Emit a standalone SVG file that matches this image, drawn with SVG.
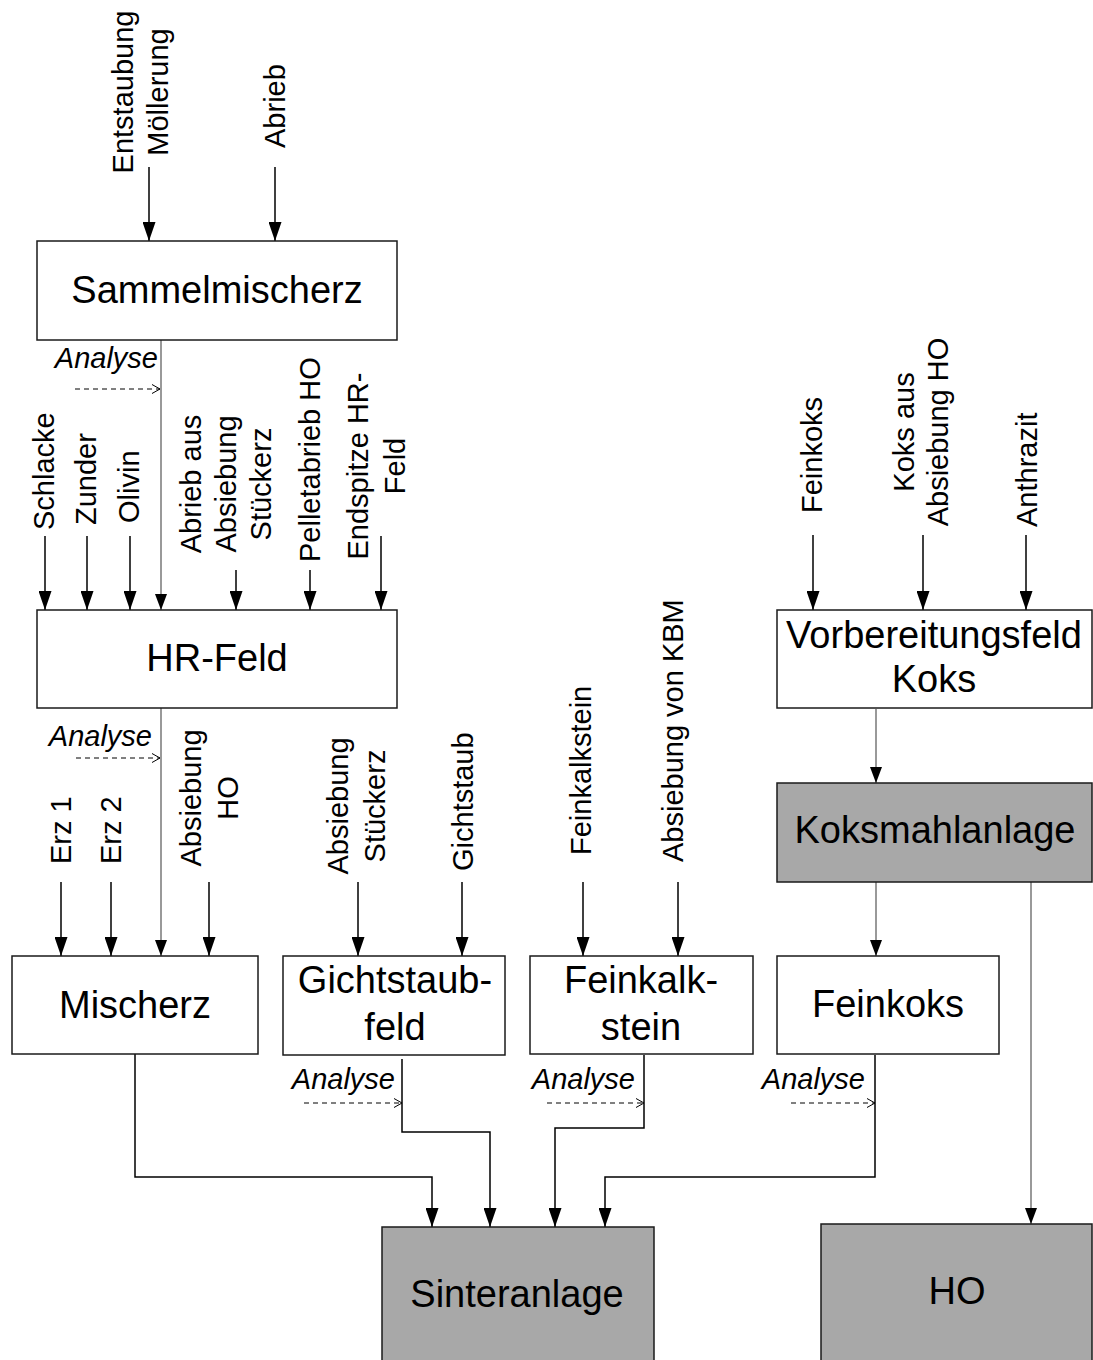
<svg xmlns="http://www.w3.org/2000/svg" width="1093" height="1360" viewBox="0 0 1093 1360">
<style>
text{font-family:"Liberation Sans",Arial,sans-serif;fill:#000}
.box{fill:#fff;stroke:#1a1a1a;stroke-width:1.5}
.gbox{fill:#a8a8a8;stroke:#1a1a1a;stroke-width:1.5}
.bt{font-size:38px;text-anchor:middle}
.lb{font-size:29px}
.mid{text-anchor:middle}
.an{font-size:29px;font-style:italic;text-anchor:end}
.ca{fill:none;stroke:#000;stroke-width:1.5;marker-end:url(#ab)}
.cg{fill:none;stroke:#555;stroke-width:1.2;marker-end:url(#ag)}
.cd{fill:none;stroke:#000;stroke-width:1;stroke-dasharray:5 4;marker-end:url(#ao)}
</style>
<defs>
<marker id="ab" markerUnits="userSpaceOnUse" markerWidth="19" markerHeight="13" refX="19" refY="6.5" orient="auto" viewBox="0 0 19 13">
<path d="M0,0 L19,6.5 L0,13 Z" fill="#000"/>
</marker>
<marker id="ag" markerUnits="userSpaceOnUse" markerWidth="16" markerHeight="12" refX="16" refY="6" orient="auto" viewBox="0 0 16 12">
<path d="M0,0 L16,6 L0,12 Z" fill="#000"/>
</marker>
<marker id="ao" markerUnits="userSpaceOnUse" markerWidth="10" markerHeight="10" refX="8.5" refY="5" orient="auto" viewBox="0 0 10 10">
<path d="M0.5,0.5 L8.5,5 L0.5,9.5" fill="none" stroke="#000" stroke-width="1"/>
</marker>
</defs>

<g id="connectors">
<line class="ca" x1="149" y1="167" x2="149" y2="241"/>
<line class="ca" x1="275" y1="167" x2="275" y2="241"/>
<line class="ca" x1="45" y1="536" x2="45" y2="610"/>
<line class="ca" x1="87" y1="536" x2="87" y2="610"/>
<line class="ca" x1="130" y1="536" x2="130" y2="610"/>
<line class="ca" x1="236" y1="570" x2="236" y2="610"/>
<line class="ca" x1="310" y1="570" x2="310" y2="610"/>
<line class="ca" x1="381" y1="536" x2="381" y2="610"/>
<line class="ca" x1="61" y1="882" x2="61" y2="956"/>
<line class="ca" x1="111" y1="882" x2="111" y2="956"/>
<line class="ca" x1="209" y1="882" x2="209" y2="956"/>
<line class="ca" x1="358" y1="882" x2="358" y2="956"/>
<line class="ca" x1="462" y1="882" x2="462" y2="956"/>
<line class="ca" x1="583" y1="882" x2="583" y2="956"/>
<line class="ca" x1="678" y1="882" x2="678" y2="956"/>
<line class="ca" x1="813" y1="535" x2="813" y2="610"/>
<line class="ca" x1="923" y1="535" x2="923" y2="610"/>
<line class="ca" x1="1026" y1="535" x2="1026" y2="610"/>

<line class="cg" x1="161" y1="340" x2="161" y2="610"/>
<line class="cg" x1="161" y1="708" x2="161" y2="956"/>
<line class="cg" x1="876" y1="709" x2="876" y2="783"/>
<line class="cg" x1="876" y1="882" x2="876" y2="956"/>
<line class="cg" x1="1031" y1="882" x2="1031" y2="1224"/>

<polyline class="ca" points="135,1054 135,1177 432,1177 432,1227"/>
<polyline class="ca" points="402,1059 402,1132 490,1132 490,1227"/>
<polyline class="ca" points="644,1055 644,1128 555,1128 555,1227"/>
<polyline class="ca" points="875,1055 875,1177 605,1177 605,1227"/>

<line class="cd" x1="75" y1="389" x2="160" y2="389"/>
<line class="cd" x1="76" y1="758" x2="160" y2="758"/>
<line class="cd" x1="304" y1="1103" x2="402" y2="1103"/>
<line class="cd" x1="547" y1="1103" x2="644" y2="1103"/>
<line class="cd" x1="791" y1="1103" x2="875" y2="1103"/>
</g>

<g id="labels">
<text class="lb mid" transform="translate(133,92) rotate(-90)"><tspan x="0" y="0">Entstaubung</tspan><tspan x="0" y="35">Möllerung</tspan></text>
<text class="lb" transform="translate(285,148) rotate(-90)">Abrieb</text>
<text class="an" x="158" y="368">Analyse</text>
<text class="lb" transform="translate(54,530) rotate(-90)">Schlacke</text>
<text class="lb" transform="translate(96,525) rotate(-90)">Zunder</text>
<text class="lb" transform="translate(139,523) rotate(-90)">Olivin</text>
<text class="lb mid" transform="translate(201,484) rotate(-90)"><tspan x="0" y="0">Abrieb aus</tspan><tspan x="0" y="35">Absiebung</tspan><tspan x="0" y="70">Stückerz</tspan></text>
<text class="lb" transform="translate(320,562) rotate(-90)">Pelletabrieb HO</text>
<text class="lb mid" transform="translate(368,466) rotate(-90)"><tspan x="0" y="0">Endspitze HR-</tspan><tspan x="0" y="37">Feld</tspan></text>
<text class="an" x="152" y="746">Analyse</text>
<text class="lb" transform="translate(71,864) rotate(-90)">Erz 1</text>
<text class="lb" transform="translate(121,864) rotate(-90)">Erz 2</text>
<text class="lb mid" transform="translate(201,798) rotate(-90)"><tspan x="0" y="0">Absiebung</tspan><tspan x="0" y="37">HO</tspan></text>
<text class="lb mid" transform="translate(348,806) rotate(-90)"><tspan x="0" y="0">Absiebung</tspan><tspan x="0" y="37">Stückerz</tspan></text>
<text class="lb" transform="translate(473,871) rotate(-90)">Gichtstaub</text>
<text class="lb" transform="translate(591,855) rotate(-90)">Feinkalkstein</text>
<text class="lb" transform="translate(683,862) rotate(-90)">Absiebung von KBM</text>
<text class="lb" transform="translate(822,513) rotate(-90)">Feinkoks</text>
<text class="lb mid" transform="translate(914,432) rotate(-90)"><tspan x="0" y="0">Koks aus</tspan><tspan x="0" y="34">Absiebung HO</tspan></text>
<text class="lb" transform="translate(1037,527) rotate(-90)">Anthrazit</text>
<text class="an" x="395" y="1089">Analyse</text>
<text class="an" x="635" y="1089">Analyse</text>
<text class="an" x="865" y="1089">Analyse</text>
</g>

<g id="sammelmischerz"><rect class="box" x="37" y="241" width="360" height="99"/><text class="bt" x="217" y="303">Sammelmischerz</text></g>
<g id="hr-feld"><rect class="box" x="37" y="610" width="360" height="98"/><text class="bt" x="217" y="671">HR-Feld</text></g>
<g id="vorbereitungsfeld"><rect class="box" x="777" y="610" width="315" height="98"/><text class="bt" x="934" y="648">Vorbereitungsfeld</text><text class="bt" x="934" y="692">Koks</text></g>
<g id="koksmahlanlage"><rect class="gbox" x="777" y="783" width="315" height="99"/><text class="bt" x="935" y="843">Koksmahlanlage</text></g>
<g id="mischerz"><rect class="box" x="12" y="956" width="246" height="98"/><text class="bt" x="135" y="1018">Mischerz</text></g>
<g id="gichtstaubfeld"><rect class="box" x="283" y="956" width="222" height="99"/><text class="bt" x="395" y="993">Gichtstaub-</text><text class="bt" x="395" y="1040">feld</text></g>
<g id="feinkalkstein"><rect class="box" x="530" y="956" width="223" height="98"/><text class="bt" x="641" y="993">Feinkalk-</text><text class="bt" x="641" y="1040">stein</text></g>
<g id="feinkoks"><rect class="box" x="777" y="956" width="222" height="98"/><text class="bt" x="888" y="1017">Feinkoks</text></g>
<g id="sinteranlage"><rect class="gbox" x="382" y="1227" width="272" height="145"/><text class="bt" x="517" y="1307">Sinteranlage</text></g>
<g id="ho"><rect class="gbox" x="821" y="1224" width="271" height="145"/><text class="bt" x="957" y="1304">HO</text></g>
</svg>
